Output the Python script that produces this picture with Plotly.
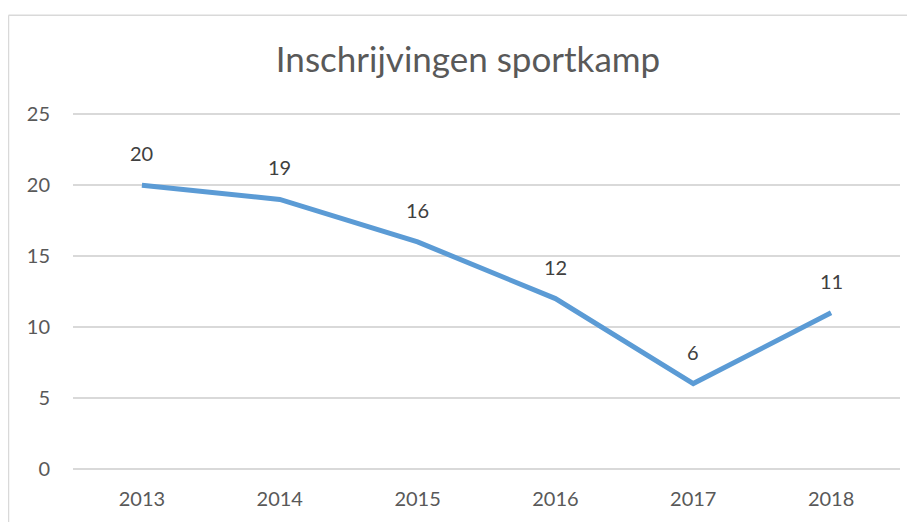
import plotly.graph_objects as go

years = ['2013', '2014', '2015', '2016', '2017', '2018']
inschrijvingen = [20, 19, 16, 12, 6, 11]
y_ticks = [0, 5, 10, 15, 20, 25]

grey = '#595959'
grid = '#D9D9D9'
blue = '#5B9BD5'

# page body has an 8px margin, so the figure is offset by (8, 8)
off = 8
px_per_unit = 355 / 25
pad = 0.1  # keep 0 and 25 gridlines inside the range so they are drawn
pad_px = pad * px_per_unit

fig = go.Figure()
fig.add_trace(
    go.Scatter(x=years,
               y=inschrijvingen,
               mode='lines',
               line=dict(color=blue, width=5),
               showlegend=False,
               hoverinfo='x+y')
)

# data labels above the points (category index as x)
for i, val in enumerate(inschrijvingen):
    fig.add_annotation(x=i, y=val, text=str(val), showarrow=False,
                       yshift=32, font=dict(size=20, color='#404040'))

W, H = 915 - off, 522 - off
left, top, right, bottom = 73 - off, 114 - off - pad_px, 900 - off, 469 - off + pad_px

fig.update_layout(
    width=W, height=H,
    margin=dict(l=left, r=W - right, t=top, b=H - bottom),
    paper_bgcolor='white', plot_bgcolor='white',
    font=dict(family='Lato, Open Sans, sans-serif', color=grey),
    title=dict(text='Inschrijvingen sportkamp', x=(468 - off) / W,
               xref='container', xanchor='center',
               y=1 - (60 - off) / H, yanchor='middle',
               font=dict(size=35, color=grey)),
)
fig.update_xaxes(type='category', range=[-0.5, len(years) - 0.5],
                 showgrid=False, showline=False,
                 ticks='', tickfont=dict(size=20, color=grey),
                 ticklabelstandoff=15)
fig.update_yaxes(range=[-pad, 25 + pad], tickvals=y_ticks, showgrid=True,
                 gridcolor=grid, gridwidth=1.5, zeroline=False,
                 showline=False, ticks='', tickfont=dict(size=20, color=grey),
                 ticklabelstandoff=22)

# chart area border (only top and left edges are visible)
pw, ph = right - left, bottom - top
bx = (8.5 - off - left) / pw
by = (bottom - (14.5 - off)) / ph
fig.add_shape(type='line', xref='paper', yref='paper',
              x0=bx, x1=bx, y0=by, y1=(bottom - H - 20) / ph,
              line=dict(color=grid, width=1.5))
fig.add_shape(type='line', xref='paper', yref='paper',
              x0=bx, x1=(W + 20 - left) / pw, y0=by, y1=by,
              line=dict(color=grid, width=1.5))

fig.write_html('out.html')
